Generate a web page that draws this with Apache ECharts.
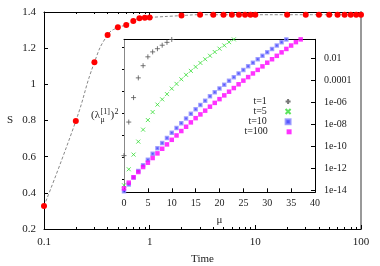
<!DOCTYPE html>
<html><head><meta charset="utf-8">
<script src="https://cdn.jsdelivr.net/npm/echarts@6/dist/echarts.min.js"></script>
<style>html,body{margin:0;padding:0;background:#fff}#c{width:380px;height:266px}</style>
</head><body><div id="c"></div>
<script>
// ---- main plot data ----
const time = [0.1,0.2,0.3,0.4,0.5,0.6,0.7,0.8,0.9,1,2,3,4,5,6,7,8,9,10,20,30,40,50,60,70,80,90,100];
const entropy = [0.327,0.797,1.122,1.273,1.315,1.328,1.350,1.365,1.368,1.370,1.380,1.385,1.385,1.385,1.385,1.385,1.385,1.385,1.385,1.385,1.385,1.385,1.385,1.385,1.385,1.385,1.385,1.385];
const timeTicks = [0.1,1,10,100];
const timeMinorTicks = [0.2,0.3,0.4,0.5,0.6,0.7,0.8,0.9,2,3,4,5,6,7,8,9,20,30,40,50,60,70,80,90];
// ---- inset data (index = mu) ----
const lambdaT1 = [1.38e-11,1.58e-8,2.69e-6,1.70e-4,2.19e-3,1.41e-2,3.98e-2,7.76e-2,0.162,0.295,0.537];
const lambdaT5 = [2.7e-14,7.8e-13,1.7e-11,2.6e-10,3.2e-9,2.4e-8,1.29e-7,6.2e-7,1.86e-6,5.6e-6,1.78e-5,4.8e-5,1.26e-4,3.2e-4,7.4e-4,1.70e-3,3.9e-3,8.5e-3,1.78e-2,3.9e-2,7.8e-2,0.155,0.31,0.55];
const lambdaT10 = [7.6e-15,3.2e-14,1.38e-13,5.4e-13,1.78e-12,5.8e-12,2.0e-11,6.3e-11,1.9e-10,5.5e-10,1.66e-9,4.5e-9,1.26e-8,3.4e-8,8.9e-8,2.3e-7,5.8e-7,1.42e-6,3.5e-6,8.1e-6,1.86e-5,4.1e-5,9.1e-5,1.95e-4,4.3e-4,9.1e-4,1.95e-3,4.1e-3,8.5e-3,1.78e-2,3.6e-2,7.4e-2,0.151,0.30,0.55];
const lambdaT100 = [1.41e-14,4.7e-14,1.45e-13,4.4e-13,1.26e-12,3.1e-12,8.3e-12,2.2e-11,5.8e-11,1.45e-10,3.8e-10,9.5e-10,2.4e-9,5.9e-9,1.48e-8,3.6e-8,7.9e-8,1.74e-7,4.0e-7,8.9e-7,1.95e-6,4.3e-6,9.3e-6,2.0e-5,4.4e-5,9.5e-5,2.0e-4,4.3e-4,9.1e-4,1.9e-3,4.1e-3,8.5e-3,1.74e-2,3.6e-2,7.4e-2,0.151,0.31,0.55];
const seriesNames = ['t=1','t=5','t=10','t=100'];
const lambdaTicks = [1e-14,1e-12,1e-10,1e-8,1e-6,1e-4,1e-2];
const lambdaMinorTicks = [1e-13,1e-11,1e-9,1e-7,1e-5,1e-3,1e-1];

const FONT = 'Liberation Serif';
const TXT = '#1a1a1a';
const sym = {
  plus: 'path://M0,5L10,5M5,0L5,10',
  cross: 'path://M0,0L10,10M10,0L0,10',
  square: 'path://M0,0L10,0L10,10L0,10Z'
};
function fmtLambda(v){
  const e = Math.round(Math.log10(v));
  if (e >= -4) return v.toFixed(-e);
  return '1e-' + String(-e).padStart(2,'0');
}
const chart = echarts.init(document.getElementById('c'), null, {renderer:'canvas'});
const hidden = {show:false};
const legendBase = (name, top) => ({
  data:[name], orient:'horizontal', align:'right', right:88.4, top:top,
  itemWidth:32.6, itemHeight:5, padding:0, itemGap:0, selectedMode:false,
  textStyle:{fontFamily:FONT, fontSize:10, color:TXT}
});
chart.setOption({
  animation:false,
  backgroundColor:'#fff',
  grid:[
    {left:44, top:12, width:317, height:217, containLabel:false, outerBoundsMode:'none'},
    {left:124, top:39.3, width:191, height:153, containLabel:false, outerBoundsMode:'none'}
  ],
  legend:[legendBase('t=1',96.5), legendBase('t=5',106.5), legendBase('t=10',116.8), legendBase('t=100',126.8)],
  xAxis:[
    {gridIndex:0, type:'log', min:0.1, max:100, position:'bottom',
     name:'Time', nameLocation:'middle', nameGap:25, nameTextStyle:{fontFamily:FONT,fontSize:11,color:TXT},
     axisLine:{onZero:false, lineStyle:{color:'#000',width:1}},
     axisTick:{inside:true, length:4, customValues:timeTicks, lineStyle:{color:'#000'}},
     axisLabel:{customValues:timeTicks, margin:8, fontFamily:FONT, fontSize:11, color:TXT, formatter:v=>String(+v.toPrecision(3))},
     splitLine:hidden},
    {gridIndex:0, type:'log', min:0.1, max:100, position:'bottom',
     axisLine:{show:false}, axisLabel:hidden, splitLine:hidden,
     axisTick:{inside:true, length:2, customValues:timeMinorTicks, lineStyle:{color:'#000'}}},
    {gridIndex:0, type:'log', min:0.1, max:100, position:'top',
     axisLine:{onZero:false, lineStyle:{color:'#000',width:1}}, axisLabel:hidden, splitLine:hidden,
     axisTick:{inside:true, length:4, customValues:timeTicks, lineStyle:{color:'#000'}}},
    {gridIndex:0, type:'log', min:0.1, max:100, position:'top',
     axisLine:{show:false}, axisLabel:hidden, splitLine:hidden,
     axisTick:{inside:true, length:2, customValues:timeMinorTicks, lineStyle:{color:'#000'}}},
    {gridIndex:1, type:'value', min:0, max:40, interval:5, position:'bottom',
     name:'μ', nameLocation:'middle', nameGap:22, nameTextStyle:{fontFamily:FONT,fontSize:11,color:TXT},
     axisLine:{onZero:false, lineStyle:{color:'#000',width:1}},
     axisTick:{inside:true, length:4, lineStyle:{color:'#000'}},
     axisLabel:{margin:6, fontFamily:FONT, fontSize:10, color:TXT},
     splitLine:hidden},
    {gridIndex:1, type:'value', min:0, max:40, position:'top',
     axisLine:{onZero:false, lineStyle:{color:'#000',width:1}}, axisTick:hidden, axisLabel:hidden, splitLine:hidden}
  ],
  yAxis:[
    {gridIndex:0, type:'value', min:0.2, max:1.4, interval:0.2, position:'left',
     name:'S', nameLocation:'middle', nameRotate:0, nameGap:31, nameTextStyle:{fontFamily:FONT,fontSize:11,color:TXT},
     axisLine:{onZero:false, lineStyle:{color:'#000',width:1}},
     axisTick:{inside:true, length:4, lineStyle:{color:'#000'}},
     axisLabel:{margin:8, fontFamily:FONT, fontSize:11, color:TXT, formatter:v=>String(+v.toFixed(1))},
     splitLine:hidden},
    {gridIndex:0, type:'value', min:0.2, max:1.4, position:'right',
     axisLine:{onZero:false, lineStyle:{color:'#999',width:2}}, axisTick:hidden, axisLabel:hidden, splitLine:hidden},
    {gridIndex:1, type:'log', min:6.2e-15, max:0.56, position:'right',
     axisLine:{onZero:false, lineStyle:{color:'#000',width:1}},
     axisTick:{inside:true, length:4, customValues:lambdaTicks, lineStyle:{color:'#000'}},
     axisLabel:{customValues:lambdaTicks, margin:9, fontFamily:FONT, fontSize:10, color:TXT, formatter:fmtLambda},
     splitLine:hidden},
    {gridIndex:1, type:'log', min:6.2e-15, max:0.56, position:'right',
     axisLine:{show:false}, axisLabel:hidden, splitLine:hidden,
     axisTick:{inside:true, length:2, customValues:lambdaMinorTicks, lineStyle:{color:'#000'}}},
    {gridIndex:1, type:'value', min:0, max:1, position:'left',
     axisLine:{onZero:false, lineStyle:{color:'#888',width:1}}, axisTick:hidden, axisLabel:hidden, splitLine:hidden}
  ],
  graphic:[
    {type:'text', left:91, top:110, style:{text:'(λ', font:'11px "Liberation Serif"', fill:TXT}},
    {type:'text', left:100.5, top:116, style:{text:'μ', font:'8px "Liberation Serif"', fill:TXT}},
    {type:'text', left:100.5, top:108, style:{text:'[1]', font:'8px "Liberation Serif"', fill:TXT}},
    {type:'text', left:110.5, top:110, style:{text:')', font:'11px "Liberation Serif"', fill:TXT}},
    {type:'text', left:114.5, top:108, style:{text:'2', font:'8px "Liberation Serif"', fill:TXT}}
  ],
  series:[
    {type:'line', name:'S', xAxisIndex:0, yAxisIndex:0, smooth:0.5,
     data: time.map((t,i)=>[t, entropy[i]]),
     symbol:'circle', symbolSize:6, itemStyle:{color:'#ff0000'},
     lineStyle:{color:'#555', width:0.7, type:[3,2]}, z:3},
    {type:'scatter', name:seriesNames[0], xAxisIndex:4, yAxisIndex:2, symbol:sym.plus, symbolSize:5,
     itemStyle:{color:'#555', borderColor:'#555', borderWidth:1},
     data: lambdaT1.map((v,i)=>[i,v])},
    {type:'scatter', name:seriesNames[1], xAxisIndex:4, yAxisIndex:2, symbol:sym.cross, symbolSize:4,
     itemStyle:{color:'#33dd33', borderColor:'#33dd33', borderWidth:1},
     data: lambdaT5.map((v,i)=>[i,v])},
    {type:'scatter', name:seriesNames[2], xAxisIndex:4, yAxisIndex:2, symbol:sym.square, symbolSize:3,
     itemStyle:{color:'#2a2aff', borderColor:'#9090ff', borderWidth:1.5},
     data: lambdaT10.map((v,i)=>[i,v])},
    {type:'scatter', name:seriesNames[3], xAxisIndex:4, yAxisIndex:2, symbol:sym.square, symbolSize:4.5,
     itemStyle:{color:'#ff00ff', borderWidth:0},
     data: lambdaT100.map((v,i)=>[i,v])}
  ]
});
</script></body></html>
